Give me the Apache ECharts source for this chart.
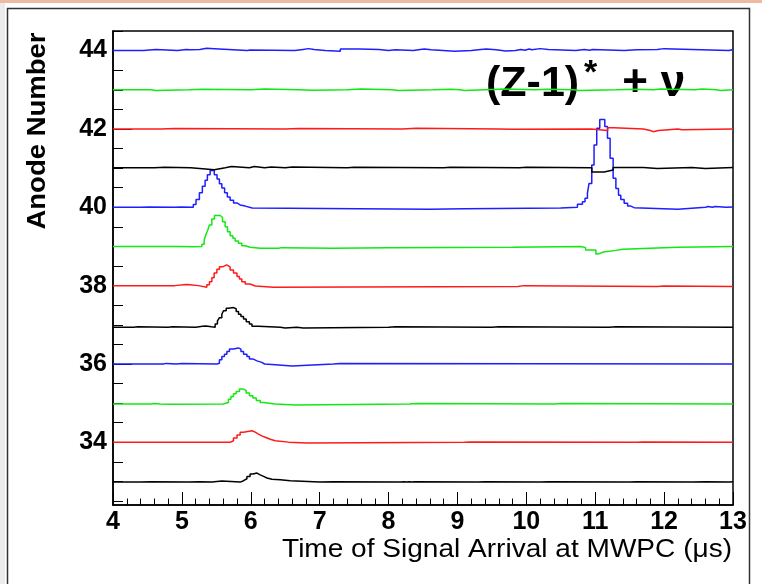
<!DOCTYPE html>
<html>
<head>
<meta charset="utf-8">
<script src="https://cdn.jsdelivr.net/npm/echarts@6/dist/echarts.min.js"></script>
<style>
html,body{margin:0;padding:0;background:#fff;}
#chart{width:762px;height:584px;}
</style>
</head>
<body>
<div id="chart"></div>
<script>
// ---- data: anode numbers and traces as [time (us), offset from anode baseline] ----
const anodes = [33, 34, 35, 36, 37, 38, 39, 40, 41, 42, 43, 44];
const xTickLabels = [4, 5, 6, 7, 8, 9, 10, 11, 12, 13];
const yTickLabels = [34, 36, 38, 40, 42, 44];
const yMinorTicks = [32.5,33,33.5,34.5,35,35.5,36.5,37,37.5,38.5,39,39.5,40.5,41,41.5,42.5,43,43.5,44.5];

const trace33 = [[4.00,-0.015],[4.40,-0.005],[4.55,-0.015],[5.10,-0.005],[5.25,-0.015],[5.435,0.015],[5.58,-0.015],[5.846,0.02],[5.895,0.07],[5.944,0.13],[5.99,0.19],[6.03,0.215],[6.09,0.17],[6.137,0.13],[6.186,0.09],[6.235,0.06],[6.307,0.045],[6.428,0.02],[6.573,-0.015],[7.00,-0.005],[7.20,-0.015],[8.18,-0.005],[8.22,-0.015],[8.26,-0.005],[8.30,-0.015],[8.34,-0.005],[8.38,-0.015],[9.30,-0.005],[9.40,-0.015],[10.20,-0.005],[10.32,-0.015],[11.50,-0.005],[11.60,-0.015],[12.40,-0.005],[12.60,-0.015],[12.95,-0.005],[13.00,-0.005]];
const trace34 = [[4.00,0.00],[5.66,0.00],[5.70,0.04],[5.749,0.11],[5.80,0.19],[5.846,0.26],[5.895,0.295],[6.017,0.26],[6.065,0.21],[6.11,0.165],[6.16,0.13],[6.21,0.08],[6.283,0.04],[6.355,0.005],[6.55,-0.02],[6.816,0.00],[9.10,0.01],[9.20,0.00],[11.60,0.01],[11.70,0.00],[13.00,0.00]];
const trace35 = [[4.00,-0.02],[4.55,-0.01],[4.60,-0.02],[4.68,-0.03],[4.83,-0.02],[5.60,-0.02],[5.628,0.015],[5.676,0.10],[5.711,0.17],[5.749,0.24],[5.788,0.30],[5.836,0.36],[5.895,0.32],[5.934,0.26],[5.98,0.19],[6.03,0.13],[6.08,0.07],[6.137,0.015],[6.186,-0.02],[6.355,-0.045],[6.646,-0.02],[8.30,-0.01],[8.40,-0.02],[10.40,-0.01],[10.50,-0.02],[13.00,-0.02]];
const trace36 = [[4.00,0.00],[4.73,0.015],[4.77,0.00],[4.92,0.01],[5.00,0.00],[5.508,0.02],[5.545,0.107],[5.58,0.19],[5.618,0.25],[5.653,0.32],[5.69,0.38],[5.749,0.41],[5.82,0.38],[5.857,0.32],[5.895,0.25],[5.944,0.19],[5.98,0.13],[6.03,0.08],[6.09,0.04],[6.16,0.00],[6.20,-0.02],[6.355,-0.05],[6.60,0.00],[7.20,0.01],[7.30,0.00],[13.00,0.00]];
const trace37 = [[4.00,-0.06],[4.30,-0.05],[4.36,-0.06],[4.80,-0.05],[4.86,-0.06],[5.20,-0.04],[5.30,-0.03],[5.35,-0.05],[5.43,-0.06],[5.483,0.02],[5.516,0.10],[5.545,0.18],[5.58,0.27],[5.604,0.36],[5.643,0.42],[5.676,0.44],[5.749,0.41],[5.788,0.34],[5.822,0.27],[5.857,0.21],[5.895,0.15],[5.934,0.08],[5.98,0.02],[6.017,-0.04],[6.11,-0.06],[6.43,-0.08],[6.50,-0.06],[6.67,-0.08],[6.76,-0.06],[8.00,-0.05],[8.10,-0.06],[9.50,-0.05],[9.60,-0.06],[11.20,-0.05],[11.30,-0.06],[13.00,-0.06]];
const trace38 = [[4.00,0.00],[4.90,0.03],[5.06,0.02],[5.12,0.00],[5.24,-0.04],[5.362,0.02],[5.40,0.10],[5.435,0.20],[5.468,0.32],[5.508,0.42],[5.545,0.48],[5.59,0.53],[5.65,0.48],[5.70,0.40],[5.749,0.32],[5.80,0.23],[5.835,0.17],[5.87,0.10],[5.92,0.04],[5.99,-0.01],[6.065,-0.04],[6.33,-0.02],[9.88,0.00],[9.96,-0.02],[11.90,-0.01],[12.00,-0.02],[13.00,-0.02]];
const trace39 = [[4.00,0.00],[4.98,-0.01],[5.16,0.00],[5.29,0.056],[5.323,0.166],[5.351,0.31],[5.376,0.42],[5.40,0.55],[5.435,0.70],[5.473,0.79],[5.556,0.74],[5.59,0.63],[5.628,0.50],[5.662,0.377],[5.70,0.275],[5.74,0.209],[5.773,0.14],[5.82,0.08],[5.87,0.02],[5.919,-0.02],[5.99,-0.045],[6.137,-0.07],[6.16,-0.045],[6.40,-0.03],[6.45,-0.045],[7.20,-0.03],[8.00,-0.02],[9.80,0.00],[10.79,-0.03],[10.86,-0.09],[11.01,-0.19],[11.05,-0.14],[11.12,-0.10],[11.30,-0.07],[11.40,-0.02],[12.20,0.00],[13.00,0.00]];
const trace40 = [[4.00,0.00],[4.40,0.01],[4.52,0.00],[4.90,0.01],[4.98,0.00],[5.166,0.07],[5.205,0.20],[5.254,0.37],[5.297,0.54],[5.337,0.69],[5.37,0.83],[5.41,0.94],[5.47,0.83],[5.51,0.72],[5.545,0.60],[5.58,0.49],[5.62,0.37],[5.66,0.265],[5.70,0.18],[5.75,0.11],[5.80,0.06],[5.845,0.03],[5.92,-0.02],[6.02,-0.05],[8.60,-0.04],[9.10,-0.02],[10.50,0.00],[10.742,0.08],[10.814,0.14],[10.852,0.23],[10.887,0.36],[10.91,0.61],[10.95,1.08],[10.983,1.59],[11.022,2.02],[11.066,2.24],[11.139,2.06],[11.178,1.76],[11.216,1.25],[11.26,0.74],[11.30,0.48],[11.338,0.31],[11.371,0.20],[11.42,0.10],[11.47,0.03],[11.517,-0.01],[11.565,-0.05],[12.20,0.00],[12.60,0.02],[12.64,0.00],[12.70,0.02],[12.74,0.00],[12.90,0.01],[13.00,0.01]];
const trace41 = [[4.00,0.01],[4.60,0.02],[4.75,0.01],[5.13,-0.04],[5.47,0.01],[5.63,0.04],[5.72,0.01],[5.98,0.04],[6.05,0.01],[6.20,0.03],[6.30,0.01],[6.50,0.03],[6.60,0.01],[7.40,0.025],[7.50,0.01],[8.80,0.025],[8.90,0.01],[9.90,0.025],[10.00,0.01],[10.95,-0.10],[11.13,-0.05],[11.26,0.015],[11.70,-0.01],[11.90,0.015],[12.40,-0.01],[12.60,0.015],[13.00,0.015]];
const trace42 = [[4.00,0.00],[4.70,0.01],[4.90,0.00],[6.50,0.01],[6.70,0.00],[8.20,0.015],[8.40,0.00],[9.60,-0.01],[9.80,0.00],[10.94,-0.04],[11.18,0.03],[11.27,0.00],[11.70,-0.04],[11.80,-0.07],[11.84,-0.04],[11.92,0.00],[12.20,-0.02],[12.26,0.00],[13.00,0.00]];
const trace43 = [[4.00,0.00],[4.55,-0.02],[4.62,0.00],[5.10,0.015],[5.30,0.00],[6.00,0.02],[6.20,0.00],[6.70,-0.015],[6.90,0.00],[7.40,0.02],[7.60,0.00],[8.05,-0.02],[8.15,0.00],[8.65,0.015],[8.90,0.00],[9.04,-0.02],[9.10,0.00],[9.40,0.02],[9.70,0.00],[10.12,0.015],[10.30,0.00],[10.69,-0.02],[10.76,0.00],[11.30,0.015],[11.60,0.00],[11.85,0.02],[11.95,0.00],[12.45,0.02],[12.55,0.00],[12.76,-0.02],[12.82,0.00],[13.00,0.00]];
const trace44 = [[4.00,0.00],[4.44,0.03],[4.62,0.00],[4.94,0.03],[5.06,0.02],[5.12,0.03],[5.26,0.06],[5.36,0.05],[5.47,0.00],[5.95,0.015],[5.99,0.00],[6.64,0.03],[6.76,0.05],[6.84,0.03],[6.92,0.00],[7.08,-0.02],[7.30,0.04],[7.58,0.03],[7.86,0.00],[8.00,0.02],[8.10,0.00],[8.36,0.03],[8.46,0.04],[8.52,0.02],[8.62,-0.015],[8.96,0.00],[9.20,0.03],[9.34,0.04],[9.42,0.02],[9.56,-0.01],[9.70,0.00],[9.84,0.03],[9.92,0.01],[9.98,0.04],[10.04,0.02],[10.08,0.05],[10.20,0.03],[10.32,0.00],[10.72,0.03],[10.84,0.01],[10.92,0.03],[10.96,0.00],[11.42,0.02],[11.60,0.03],[11.90,0.05],[12.00,0.02],[12.02,0.00],[12.94,0.03],[13.00,0.03]];
const traceList = [trace33, trace34, trace35, trace36, trace37, trace38, trace39, trace40, trace41, trace42, trace43, trace44];

// ---- styling ----
const colorCycle = ['#000000', '#ff1a1a', '#12e812', '#1e1eff']; // black, red, green, blue
const FONT = '"Liberation Sans", Arial, Helvetica, sans-serif';

const series = anodes.map((a, i) => ({
  type: 'line',
  step: 'end',
  symbol: 'none',
  silent: true,
  animation: false,
  data: traceList[i].map(p => [p[0], a + p[1]]),
  lineStyle: { color: colorCycle[i % 4], width: 1.5 },
  z: 2 + i
}));

const chart = echarts.init(document.getElementById('chart'), null, { renderer: 'canvas' });
chart.setOption({
  backgroundColor: '#ffffff',
  animation: false,
  grid: { left: 113, right: 29, top: 31, bottom: 79, show: true, borderColor: '#000', borderWidth: 1.5, backgroundColor: 'transparent' },
  xAxis: {
    type: 'value', min: 4, max: 13, interval: 1,
    axisLine: { show: true, lineStyle: { color: '#000', width: 1.5 } },
    axisTick: { show: true, inside: true, length: 13, lineStyle: { color: '#000', width: 1 } },
    minorTick: { show: true, splitNumber: 5, length: 6.5, lineStyle: { color: '#000', width: 1 } },
    splitLine: { show: false },
    axisLabel: { color: '#000', fontSize: 25, fontWeight: 'bold', fontFamily: FONT, margin: 5,
      customValues: xTickLabels }
  },
  yAxis: [{
    type: 'value', min: 32.4, max: 44.5,
    axisLine: { show: true, lineStyle: { color: '#000', width: 1.5 } },
    axisTick: { show: true, inside: true, length: 19, lineStyle: { color: '#000', width: 1 }, customValues: yTickLabels },
    splitLine: { show: false },
    axisLabel: { color: '#000', fontSize: 25, fontWeight: 'bold', fontFamily: FONT, margin: 6,
      customValues: yTickLabels }
  }, {
    type: 'value', min: 32.4, max: 44.5, position: 'left', offset: 0,
    axisLine: { show: false },
    axisTick: { show: true, inside: true, length: 10, lineStyle: { color: '#000', width: 1 }, customValues: yMinorTicks },
    splitLine: { show: false },
    axisLabel: { show: false }
  }],
  series: series,
  graphic: [
    { type: 'rect', shape: { x: 0, y: 0, width: 762, height: 3 }, style: { fill: '#efbaa4' }, silent: true },
    { type: 'rect', shape: { x: 0, y: 3, width: 5, height: 581 }, style: { fill: '#ececec' }, silent: true },
    { type: 'rect', shape: { x: 7.5, y: 8.5, width: 742, height: 600 }, style: { fill: 'none', stroke: '#333', lineWidth: 1.5 }, silent: true },
    { type: 'text', x: 38, y: 131, rotation: Math.PI / 2, scaleX: 1.1,
      style: { text: 'Anode Number', font: 'bold 25px ' + FONT, fill: '#000', align: 'center', verticalAlign: 'middle' } },
    { type: 'text', x: 732, y: 550, scaleX: 1.1,
      style: { text: 'Time of Signal Arrival at MWPC (\u03bcs)', font: '25.5px ' + FONT, fill: '#000', align: 'right', verticalAlign: 'middle' } },
    { type: 'text', x: 486, y: 84, style: { text: '(Z-1)', font: 'bold 43px ' + FONT, fill: '#000', align: 'left', verticalAlign: 'middle' } },
    { type: 'text', x: 584, y: 74, style: { text: '*', font: 'bold 34px ' + FONT, fill: '#000', align: 'left', verticalAlign: 'middle' } },
    { type: 'text', x: 635, y: 84, style: { text: '+', font: 'bold 44px ' + FONT, fill: '#000', align: 'center', verticalAlign: 'middle' } },
    { type: 'text', x: 673, y: 83.5, style: { text: '\u03bd', font: 'bold 44px ' + FONT, fill: '#000', align: 'center', verticalAlign: 'middle' } }
  ]
});
</script>
</body>
</html>
